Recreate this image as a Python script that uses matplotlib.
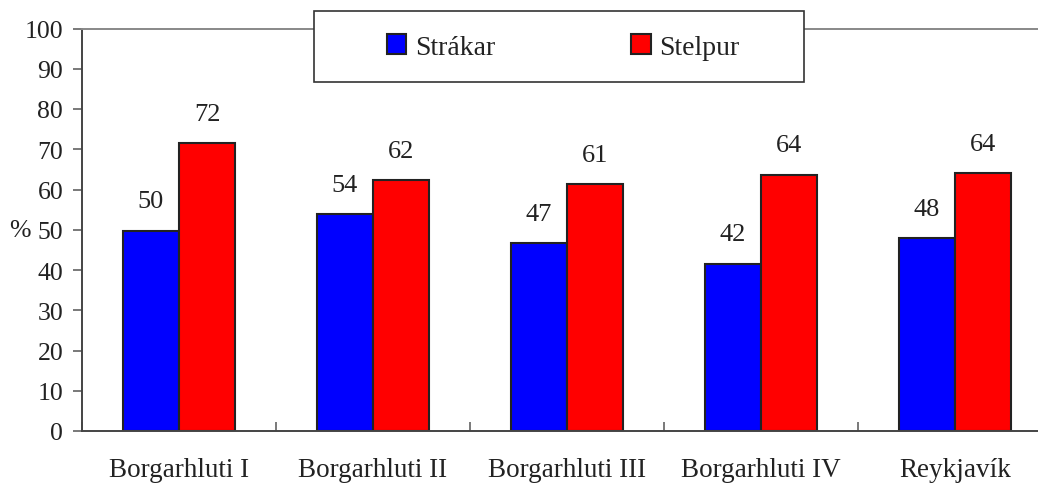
import matplotlib
matplotlib.use("Agg")
import matplotlib.pyplot as plt
import numpy as np
from matplotlib.patches import Rectangle

# gögn lesin af myndinni
hverfi = ["Borgarhluti I", "Borgarhluti II", "Borgarhluti III", "Borgarhluti IV", "Reykjavík"]
strakar = [49.8, 53.9, 46.6, 41.6, 48.0]
stelpur = [71.6, 62.4, 61.4, 63.7, 64.0]
y_ticks = [0, 10, 20, 30, 40, 50, 60, 70, 80, 90, 100]

plt.rcParams['font.family'] = ['Liberation Serif', 'DejaVu Serif']

fig = plt.figure(figsize=(10.38, 4.85), dpi=100)
ax = fig.add_axes([82/1038, 53/485, 970/1038, 402.5/485])

x = np.arange(len(hverfi))
w = 0.289
b1 = ax.bar(x - w/2, strakar, w, color='#0000FF', edgecolor='#222222', linewidth=1.5, label='Strákar')
b2 = ax.bar(x + w/2, stelpur, w, color='#FF0000', edgecolor='#222222', linewidth=1.5, label='Stelpur')

for bars, vals in ((b1, strakar), (b2, stelpur)):
    for r, v in zip(bars, vals):
        ax.annotate(f"{v:.0f}", (r.get_x() + r.get_width()/2, v), xytext=(0, 21),
                    textcoords='offset points', ha='center', va='center',
                    fontsize=19, color='#222222')

ax.set_xlim(-0.5, len(hverfi) - 0.5)
ax.set_ylim(0, 100)
ax.set_yticks(y_ticks)
ax.set_xticks(x)
ax.set_xticklabels(hverfi)
ax.set_xticks(np.arange(len(hverfi) + 1) - 0.5, minor=True)
ax.tick_params(axis='x', which='major', length=0, pad=18.5, labelsize=19.5, labelcolor='#222222')
ax.tick_params(axis='x', which='minor', direction='in', length=6.5, width=1.1, color='#555555')
ax.tick_params(axis='y', direction='out', length=6.5, width=1.1, color='#555555', pad=7,
               labelsize=18.5, labelcolor='#222222')

ax.set_ylabel('%', rotation=0, fontsize=18.5, color='#222222', ha='center', va='center')
ax.yaxis.set_label_coords(-0.064, 0.5)

ax.spines['right'].set_visible(False)
ax.spines['top'].set_color('#888888')
ax.spines['top'].set_linewidth(1.4)
for s in ('left', 'bottom'):
    ax.spines[s].set_color('#444444')
    ax.spines[s].set_linewidth(1.4)

# ramminn utan um skýringuna
box = Rectangle((314/1038, 1 - 83/485), 490/1038, 71/485, transform=fig.transFigure,
                facecolor='white', edgecolor='#333333', linewidth=1.2, zorder=5)
fig.add_artist(box)
leg = fig.legend(handles=[b1, b2], loc='center', bbox_to_anchor=(563/1038, 1 - 48/485),
                 ncol=2, frameon=False, fontsize=20, handlelength=0.7, handleheight=0.7,
                 handletextpad=0.3, columnspacing=4.9, borderpad=0)
leg.set_zorder(6)
for t in leg.get_texts():
    t.set_color('#222222')

fig.savefig("out.png", dpi=100)
